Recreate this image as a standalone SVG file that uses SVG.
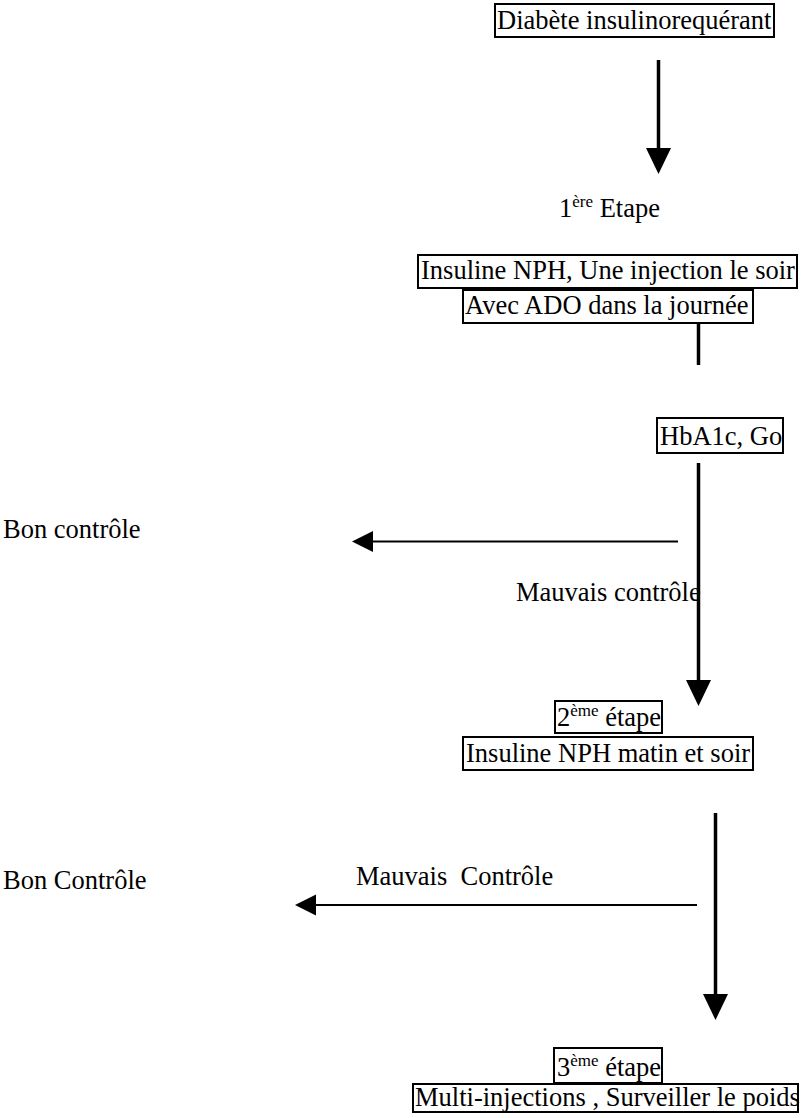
<svg xmlns="http://www.w3.org/2000/svg" width="806" height="1118" viewBox="0 0 806 1118">
<style>
  text { font-family: "Liberation Serif", "Times New Roman", serif; font-size: 26.5px; fill: #000; }
  .box { fill: #fff; stroke: #000; stroke-width: 2; }
  .vline { stroke: #000; stroke-width: 3.5; fill: none; }
  .hline { stroke: #000; stroke-width: 2; fill: none; }
  .sup { font-size: 17px; }
</style>
<defs>
  <marker id="headV" markerUnits="userSpaceOnUse" markerWidth="27" markerHeight="26" refX="0" refY="12.5" orient="auto">
    <path d="M0,0 L26,12.5 L0,25 z" fill="#000"/>
  </marker>
  <marker id="headH" markerUnits="userSpaceOnUse" markerWidth="22" markerHeight="22" refX="0" refY="10.5" orient="auto">
    <path d="M0,0 L21,10.5 L0,21 z" fill="#000"/>
  </marker>
</defs>
<rect width="806" height="1118" fill="#fff"/>

<g id="connectors">
  <line class="vline" x1="658.5" y1="60" x2="658.5" y2="148" marker-end="url(#headV)"/>
  <line class="vline" x1="698.5" y1="288" x2="698.5" y2="365"/>
  <line class="vline" x1="698.5" y1="463" x2="698.5" y2="680" marker-end="url(#headV)"/>
  <line class="hline" x1="678" y1="541.5" x2="373" y2="541.5" marker-end="url(#headH)"/>
  <line class="vline" x1="715.5" y1="813" x2="715.5" y2="994" marker-end="url(#headV)"/>
  <line class="hline" x1="697" y1="905" x2="316" y2="905" marker-end="url(#headH)"/>
</g>

<g id="n-diabete">
  <rect class="box" x="495" y="4" width="279" height="33"/>
  <text x="497" y="29">Diabète insulinorequérant</text>
</g>

<g id="n-etape1">
  <text x="559" y="217">1<tspan class="sup" dy="-10">ère</tspan><tspan dy="10"> Etape</tspan></text>
</g>

<g id="n-nph-soir">
  <rect class="box" x="418" y="255" width="379" height="33"/>
  <text x="421" y="279">Insuline NPH, Une injection le soir</text>
</g>

<g id="n-ado">
  <rect class="box" x="463" y="290" width="290" height="33"/>
  <text x="465" y="314">Avec ADO dans la journée</text>
</g>

<g id="n-hba1c">
  <rect class="box" x="657" y="418" width="126" height="35"/>
  <text x="660" y="445">HbA1c, Go</text>
</g>

<g id="n-bon1">
  <text x="3" y="538">Bon contrôle</text>
</g>

<g id="n-mauvais1">
  <text x="516" y="601">Mauvais contrôle</text>
</g>

<g id="n-etape2">
  <rect class="box" x="555" y="701" width="107" height="32"/>
  <text x="557" y="726">2<tspan class="sup" dy="-10">ème</tspan><tspan dy="10"> étape</tspan></text>
</g>

<g id="n-nph-matin-soir">
  <rect class="box" x="463" y="737" width="290" height="33"/>
  <text x="466" y="762">Insuline NPH matin et soir</text>
</g>

<g id="n-bon2">
  <text x="3" y="889">Bon Contrôle</text>
</g>

<g id="n-mauvais2">
  <text x="356" y="885" xml:space="preserve">Mauvais  Contrôle</text>
</g>

<g id="n-etape3">
  <rect class="box" x="554" y="1048" width="108" height="35"/>
  <text x="557" y="1076">3<tspan class="sup" dy="-10">ème</tspan><tspan dy="10"> étape</tspan></text>
</g>

<g id="n-multi">
  <rect class="box" x="413" y="1084" width="385" height="28"/>
  <text x="415" y="1106">Multi-injections , Surveiller le poids</text>
</g>
</svg>
